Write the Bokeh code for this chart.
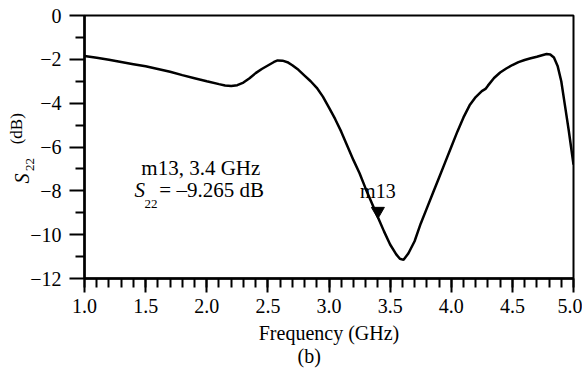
import math
from bokeh.plotting import figure
from bokeh.models import (FixedTicker, Label, ColumnDataSource, CustomJSTickFormatter,
                          PrintfTickFormatter, Title)
from bokeh.transform import dodge
from bokeh.embed import file_html
from bokeh.resources import INLINE

# ---- data ----
freq = [1.0, 1.1, 1.2, 1.3, 1.4, 1.5, 1.6, 1.7, 1.8, 1.9, 2.0, 2.1, 2.15, 2.2, 2.25,
        2.3, 2.35, 2.4, 2.45, 2.5, 2.55, 2.58, 2.62, 2.66, 2.7, 2.75, 2.8, 2.85, 2.9,
        2.95, 3.0, 3.05, 3.1, 3.15, 3.2, 3.25, 3.3, 3.35, 3.4, 3.45, 3.5, 3.55, 3.58,
        3.61, 3.65, 3.7, 3.75, 3.8, 3.85, 3.9, 3.95, 4.0, 4.05, 4.1, 4.15, 4.2, 4.25,
        4.28, 4.3, 4.35, 4.4, 4.45, 4.5, 4.55, 4.6, 4.65, 4.7, 4.75, 4.78, 4.81, 4.84,
        4.87, 4.9, 4.93, 4.96, 4.98, 5.0]
s22 = [-1.85, -1.93, -2.02, -2.12, -2.22, -2.32, -2.44, -2.57, -2.72, -2.86, -3.00,
       -3.13, -3.19, -3.22, -3.18, -3.06, -2.86, -2.63, -2.44, -2.28, -2.12, -2.05,
       -2.06, -2.13, -2.27, -2.48, -2.74, -3.00, -3.30, -3.70, -4.20, -4.72, -5.30,
       -5.95, -6.60, -7.20, -7.90, -8.55, -9.20, -9.85, -10.45, -10.90, -11.10, -11.15,
       -10.85, -10.30, -9.50, -8.80, -8.10, -7.40, -6.70, -6.00, -5.30, -4.65, -4.10,
       -3.72, -3.45, -3.35, -3.20, -2.85, -2.60, -2.42, -2.26, -2.13, -2.03, -1.95,
       -1.88, -1.80, -1.76, -1.78, -1.92, -2.30, -3.00, -4.10, -5.20, -6.00, -6.80]

marker_name = ["m13"]
marker_freq = [3.4]
marker_val = [-9.265]

x_ticks = [1.0, 1.5, 2.0, 2.5, 3.0, 3.5, 4.0, 4.5, 5.0]
x_minor = [round(1.0 + 0.1 * i, 1) for i in range(41)]
y_ticks = [-12, -10, -8, -6, -4, -2, 0]
y_minor = [-11, -9, -7, -5, -3, -1]

FONT = "Liberation Serif"

p = figure(width=582, height=378, x_range=(1, 5), y_range=(-12, 0),
           output_backend="svg", toolbar_location=None, title=None,
           min_border_left=83, min_border_right=9, min_border_top=15,
           min_border_bottom=100)
p.background_fill_color = "white"
p.border_fill_color = "white"
p.xgrid.visible = False
p.ygrid.visible = False
p.outline_line_color = "black"
p.outline_line_width = 2
p.outline_line_alpha = 1.0

p.xaxis.ticker = FixedTicker(ticks=x_ticks, minor_ticks=x_minor)
p.yaxis.ticker = FixedTicker(ticks=y_ticks, minor_ticks=y_minor)
p.xaxis.formatter = PrintfTickFormatter(format="%.1f")
p.yaxis.formatter = CustomJSTickFormatter(code="return String(tick).replace('-', '\u2212')")

for ax in (p.xaxis, p.yaxis):
    ax.axis_line_color = "black"
    ax.axis_line_width = 2.5
    ax.major_tick_line_color = "black"
    ax.major_tick_line_width = 2
    ax.minor_tick_line_color = "black"
    ax.minor_tick_line_width = 2
    ax.major_tick_in = 0
    ax.minor_tick_in = 0
    ax.major_label_text_font = FONT
    ax.major_label_text_font_size = "20px"
    ax.major_label_text_color = "black"

p.xaxis.major_tick_out = 14
p.xaxis.minor_tick_out = 9
p.xaxis.major_label_standoff = 6
p.yaxis.major_tick_out = 15
p.yaxis.minor_tick_out = 9
p.yaxis.major_label_standoff = 8

p.xaxis.axis_label = "Frequency (GHz)"
p.xaxis.axis_label_text_font = FONT
p.xaxis.axis_label_text_font_size = "20px"
p.xaxis.axis_label_text_font_style = "normal"
p.xaxis.axis_label_text_color = "black"
p.xaxis.axis_label_standoff = 6

# panel caption below the axis
p.add_layout(Title(text="(b)", align="left", offset=213, standoff=-7,
                   text_font=FONT, text_font_size="20px", text_font_style="normal",
                   text_color="black"), "below")

# curve
p.line(freq, s22, line_color="black", line_width=2.5)

# marker (tip of the inverted triangle sits on the data point)
msrc = ColumnDataSource(dict(x=marker_freq, y=marker_val, name=marker_name))
p.scatter(x="x", y=dodge("y", 0.34, range=p.y_range), source=msrc,
          marker="inverted_triangle", size=13, fill_color="black", line_color="black")
p.text(x="x", y="y", text="name", source=msrc, y_offset=-28,
       text_align="center", text_baseline="alphabetic",
       text_font={"value": FONT}, text_font_size="20px", text_color="black")


def lab(text, x, y, size, style="normal", angle=0.0, align="left", place="center"):
    p.add_layout(Label(x=x, y=y, text=text, angle=angle,
                       text_align=align, text_baseline="alphabetic", text_font=FONT,
                       text_font_size=size, text_font_style=style,
                       text_color="black"), place)


# y-axis label: S22 (dB), rotated; pieces live in side panels with spare room
# so that they are drawn outside the frame without moving it
lab("S", 0.489, -7.67, "20px", "italic", math.pi / 2, place="above")
lab("22", 0.551, -7.10, "13px", "normal", math.pi / 2, place="left")
lab("(dB)", 0.445, -5.88, "17px", "normal", math.pi / 2, place="left")

# annotation text
lab(f"{marker_name[0]}, {marker_freq[0]} GHz", 1.465, -6.98, "21px")
lab("S", 1.408, -7.98, "21px", "italic")
lab("22", 1.490, -8.62, "13px")
lab(f"= \u2013{abs(marker_val[0]):.3f} dB", 1.612, -7.98, "21px")

open("out.html", "w").write(file_html(p, INLINE))
